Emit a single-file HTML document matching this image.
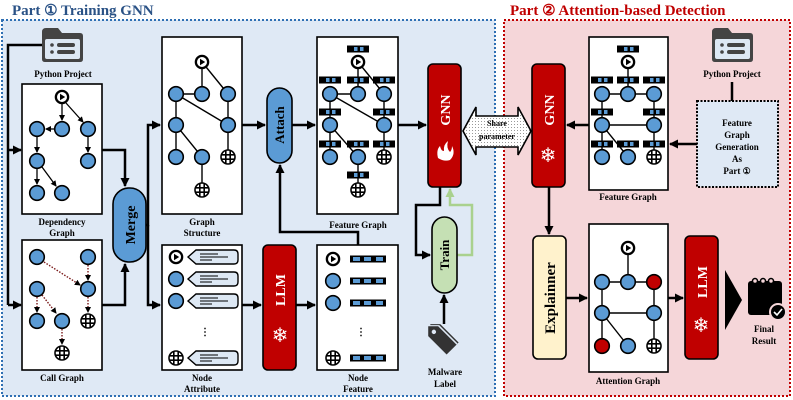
<!DOCTYPE html>
<html><head><meta charset="utf-8"><style>
html,body{margin:0;padding:0;background:#fff;width:793px;height:400px;overflow:hidden}
svg{display:block}
text{font-family:"Liberation Serif",serif;font-weight:bold}
</style></head><body>
<svg width="793" height="400" viewBox="0 0 793 400" xmlns="http://www.w3.org/2000/svg">
<defs>
<marker id="ar" markerWidth="6" markerHeight="6" refX="5" refY="3" orient="auto" markerUnits="userSpaceOnUse"><path d="M0,0 L6,3 L0,6 z" fill="#000"/></marker>
<marker id="ar2" markerWidth="9" markerHeight="9" refX="8" refY="4.5" orient="auto" markerUnits="userSpaceOnUse"><path d="M0,0 L9,4.5 L0,9 z" fill="#000"/></marker>
<marker id="arg" markerWidth="9" markerHeight="9" refX="8" refY="4.5" orient="auto" markerUnits="userSpaceOnUse"><path d="M0,0 L9,4.5 L0,9 z" fill="#a9d18e"/></marker>
<g id="n"><circle r="7.3" fill="#5b9bd5" stroke="#000" stroke-width="1.6"/></g>
<g id="r"><circle r="7.3" fill="#c00000" stroke="#000" stroke-width="1.6"/></g>
<g id="p"><circle r="7.3" fill="#000"/><circle r="5" fill="#fff"/><path d="M-2,-3.2 L3.2,0 L-2,3.2z" fill="#000"/></g>
<g id="q"><circle r="7" fill="#fff" stroke="#000" stroke-width="1.6"/><path d="M-6,-2.2H6M-6,2.2H6M-2.2,-6V6M2.2,-6V6" stroke="#000" stroke-width="1.6"/></g>
<g id="b"><rect x="-11" y="-3.5" width="22" height="7" fill="#000"/><rect x="-4" y="-2" width="3.5" height="4" fill="#5b9bd5"/><rect x="2" y="-2" width="3.5" height="4" fill="#5b9bd5"/></g>
<g id="bb"><rect x="-18" y="-3.5" width="36" height="7" fill="#000"/><rect x="-15" y="-2" width="7" height="4" fill="#5b9bd5"/><rect x="-4" y="-2" width="7" height="4" fill="#5b9bd5"/><rect x="8" y="-2" width="7" height="4" fill="#5b9bd5"/></g>
<g id="sp"><path d="M0,0 L8,-7 H46 Q50,-7 50,-3 V3 Q50,7 46,7 H8 z" fill="#dde8f4" stroke="#000" stroke-width="1.4"/><path d="M12,-3H30M12,0H40M12,3H24" stroke="#000" stroke-width="1"/></g>
<g id="folder"><path d="M0,4 Q0,0 4,0 H16 L20,5 H38 Q41,5 41,8 V31 Q41,34 38,34 H3 Q0,34 0,31 z" fill="#444"/><rect x="3" y="11" width="35" height="20" rx="2" fill="#dde8f4"/><circle cx="10" cy="17" r="1.8" fill="#444"/><circle cx="10" cy="24" r="1.8" fill="#444"/><rect x="15" y="15" width="18" height="4" rx="2" fill="#444"/><rect x="15" y="22" width="18" height="4" rx="2" fill="#444"/></g>
<pattern id="dots" width="3" height="3" patternUnits="userSpaceOnUse"><rect width="3" height="3" fill="#fff"/><circle cx="1.5" cy="1.5" r="0.5" fill="#777"/></pattern>
</defs>

<rect x="2" y="20" width="493" height="376" fill="#dfe9f5" stroke="#2e6fb3" stroke-width="2" stroke-dasharray="2,2"/>
<rect x="504" y="20" width="286" height="376" fill="#f5d6d9" stroke="#c00000" stroke-width="2" stroke-dasharray="2,2"/>
<text x="12" y="15" font-size="15" fill="#2a5286">Part ① Training GNN</text>
<text x="510" y="15" font-size="15" fill="#c00000">Part ② Attention-based Detection</text>

<use href="#folder" x="42" y="28"/>
<text x="63" y="77" font-size="9" text-anchor="middle">Python Project</text>
<path d="M42,45 H8 V305" fill="none" stroke="#000" stroke-width="2.5"/>
<path d="M8,150 H21" stroke="#000" stroke-width="2.5" marker-end="url(#ar2)"/>
<path d="M8,305 H21" stroke="#000" stroke-width="2.5" marker-end="url(#ar2)"/>

<rect x="22" y="84" width="80" height="130" fill="#fff" stroke="#000" stroke-width="1.6"/>
<g stroke="#000" stroke-width="1.3" marker-end="url(#ar)" fill="none">
<path d="M62,104 V120"/><path d="M66,103 L83,122"/><path d="M54,129 H46"/>
<path d="M37,137 V152"/><path d="M88,137 V152"/><path d="M37,169 V184"/><path d="M42,167 L56,186"/>
</g>
<use href="#p" x="62" y="97"/><use href="#n" x="37" y="129"/><use href="#n" x="62" y="129"/><use href="#n" x="88" y="129"/>
<use href="#n" x="37" y="161"/><use href="#n" x="88" y="161"/><use href="#n" x="37" y="193"/><use href="#n" x="62" y="193"/>
<text x="62" y="225" font-size="9" text-anchor="middle">Dependency</text>
<text x="62" y="236" font-size="9" text-anchor="middle">Graph</text>

<rect x="22" y="240" width="80" height="130" fill="#fff" stroke="#000" stroke-width="1.6"/>
<g stroke="#7a1a1a" stroke-width="1.4" stroke-dasharray="1.5,1.5" marker-end="url(#ar)" fill="none">
<path d="M44,262 L80,285"/><path d="M88,265 V280"/><path d="M37,297 V312"/><path d="M42,295 L56,313"/><path d="M88,297 V312"/><path d="M62,329 V344"/>
</g>
<use href="#n" x="37" y="257"/><use href="#n" x="88" y="257"/><use href="#n" x="37" y="289"/><use href="#n" x="88" y="289"/>
<use href="#n" x="37" y="321"/><use href="#n" x="62" y="321"/><use href="#q" x="88" y="321"/><use href="#q" x="62" y="353"/>
<text x="62" y="381" font-size="9" text-anchor="middle">Call Graph</text>

<path d="M102,150 H125 V186" fill="none" stroke="#000" stroke-width="2.5" marker-end="url(#ar2)"/>
<path d="M102,305 H125 V264" fill="none" stroke="#000" stroke-width="2.5" marker-end="url(#ar2)"/>
<rect x="113" y="188" width="33" height="74" rx="16" fill="#5b9bd5" stroke="#000" stroke-width="1.6"/>
<text transform="translate(135,225) rotate(-90)" font-size="14" text-anchor="middle">Merge</text>
<path d="M146,225 H148 V125 H160" fill="none" stroke="#000" stroke-width="2.5" marker-end="url(#ar2)"/>
<path d="M148,225 V305 H160" fill="none" stroke="#000" stroke-width="2.5" marker-end="url(#ar2)"/>

<rect x="162" y="37" width="80" height="177" fill="#fff" stroke="#000" stroke-width="1.6"/>
<g stroke="#000" stroke-width="1.4" fill="none">
<path d="M202,62 V94"/><path d="M202,62 L228,94"/><path d="M176,94 H202"/><path d="M176,94 V157"/><path d="M176,94 L228,125"/><path d="M228,94 V157"/><path d="M176,125 L202,157 V190"/>
</g>
<use href="#p" x="202" y="62"/><use href="#n" x="176" y="94"/><use href="#n" x="202" y="94"/><use href="#n" x="228" y="94"/>
<use href="#n" x="176" y="125"/><use href="#n" x="228" y="125"/><use href="#n" x="176" y="157"/><use href="#n" x="202" y="157"/><use href="#q" x="228" y="157"/><use href="#q" x="202" y="190"/>
<text x="202" y="225" font-size="9" text-anchor="middle">Graph</text>
<text x="202" y="236" font-size="9" text-anchor="middle">Structure</text>

<rect x="162" y="245" width="80" height="125" fill="#fff" stroke="#000" stroke-width="1.6"/>
<use href="#p" x="176" y="257"/><use href="#sp" x="188" y="257"/>
<use href="#n" x="176" y="279"/><use href="#sp" x="188" y="279"/>
<use href="#n" x="176" y="301"/><use href="#sp" x="188" y="301"/>
<text x="205" y="335" font-size="10" text-anchor="middle">⋮</text>
<use href="#q" x="176" y="358"/><use href="#sp" x="188" y="358"/>
<text x="202" y="381" font-size="9" text-anchor="middle">Node</text>
<text x="202" y="392" font-size="9" text-anchor="middle">Attribute</text>

<path d="M242,125 H265" stroke="#000" stroke-width="2.5" marker-end="url(#ar2)"/>
<rect x="267" y="88" width="25" height="75" rx="12.5" fill="#5b9bd5" stroke="#000" stroke-width="1.6"/>
<text transform="translate(284,125) rotate(-90)" font-size="13" text-anchor="middle">Attach</text>
<path d="M292,125 H315" stroke="#000" stroke-width="2.5" marker-end="url(#ar2)"/>
<path d="M358,245 V232 H280 V165" fill="none" stroke="#000" stroke-width="2.5" marker-end="url(#ar2)"/>

<path d="M242,305 H261" stroke="#000" stroke-width="2.5" marker-end="url(#ar2)"/>
<rect x="263" y="245" width="33" height="125" rx="5" fill="#c00000" stroke="#000" stroke-width="1.6"/>
<text transform="translate(285,290) rotate(-90)" font-size="14" fill="#fff" text-anchor="middle">LLM</text>
<text x="280" y="342" font-size="20" fill="#fff" text-anchor="middle" style="font-family:'DejaVu Sans',sans-serif">❄</text>
<path d="M296,305 H315" stroke="#000" stroke-width="2.5" marker-end="url(#ar2)"/>

<rect x="317" y="37" width="81" height="177" fill="#fff" stroke="#000" stroke-width="1.6"/>
<g stroke="#000" stroke-width="1.4" fill="none">
<path d="M358,62 V94"/><path d="M358,62 L384,94"/><path d="M330,94 H358"/><path d="M330,94 V157"/><path d="M330,94 L384,125"/><path d="M384,94 V157"/><path d="M330,125 L358,157 V190"/>
</g>
<use href="#b" x="358" y="49"/>
<use href="#p" x="358" y="62"/>
<use href="#b" x="330" y="80"/><use href="#b" x="358" y="80"/><use href="#b" x="384" y="80"/>
<use href="#n" x="330" y="94"/><use href="#n" x="358" y="94"/><use href="#n" x="384" y="94"/>
<use href="#b" x="330" y="112"/><use href="#b" x="384" y="112"/>
<use href="#n" x="330" y="125"/><use href="#n" x="384" y="125"/>
<use href="#b" x="330" y="144"/><use href="#b" x="358" y="144"/><use href="#b" x="384" y="144"/>
<use href="#n" x="330" y="157"/><use href="#n" x="358" y="157"/><use href="#q" x="384" y="157"/>
<use href="#b" x="358" y="175"/><use href="#q" x="358" y="190"/>
<text x="358" y="228" font-size="9" text-anchor="middle">Feature Graph</text>

<rect x="317" y="245" width="81" height="125" fill="#fff" stroke="#000" stroke-width="1.6"/>
<use href="#p" x="333" y="259"/><use href="#bb" x="368" y="259"/>
<use href="#n" x="333" y="281"/><use href="#bb" x="368" y="281"/>
<use href="#n" x="333" y="303"/><use href="#bb" x="368" y="303"/>
<text x="361" y="335" font-size="10" text-anchor="middle">⋮</text>
<use href="#q" x="333" y="358"/><use href="#bb" x="368" y="358"/>
<text x="358" y="381" font-size="9" text-anchor="middle">Node</text>
<text x="358" y="392" font-size="9" text-anchor="middle">Feature</text>

<path d="M398,125 H426" stroke="#000" stroke-width="2.5" marker-end="url(#ar2)"/>
<rect x="428" y="64" width="33" height="123" rx="5" fill="#c00000" stroke="#000" stroke-width="1.6"/>
<text transform="translate(450,110) rotate(-90)" font-size="14" fill="#fff" text-anchor="middle">GNN</text>
<path d="M438,158 Q436,150 440,146 Q441,151 444,151 Q443,145 448,141 Q446,148 450,152 Q452,150 452,146 Q456,154 450,160 Q444,162 438,158z" fill="#fff"/>
<path d="M440,187 V205 H416 V255 H430" fill="none" stroke="#000" stroke-width="2.5" marker-end="url(#ar2)"/>
<path d="M457,255 H472 V205 H450 V189" fill="none" stroke="#a9d18e" stroke-width="2.5" marker-end="url(#arg)"/>
<rect x="432" y="217" width="25" height="76" rx="12.5" fill="#c5e0b4" stroke="#000" stroke-width="1.6"/>
<text transform="translate(449,255) rotate(-90)" font-size="13" text-anchor="middle">Train</text>
<path d="M444,324 V295" stroke="#000" stroke-width="2.5" marker-end="url(#ar2)"/>
<g transform="translate(436,334) rotate(-45)">
<path d="M-7,-4 L0,-11 L7,-4 V22 H-7 z" fill="#333" transform="translate(3,0)"/>
<path d="M-7,-4 L0,-11 L7,-4 V22 H-7 z" fill="#dfe9f5" transform="translate(1.5,0)"/>
<path d="M-7,-4 L0,-11 L7,-4 V22 H-7 z" fill="#333"/>
<circle cx="0" cy="-3" r="2.2" fill="#dfe9f5"/>
</g>
<text x="445" y="375" font-size="9" text-anchor="middle">Malware</text>
<text x="445" y="387" font-size="9" text-anchor="middle">Label</text>

<path d="M463,131 L476,107 V116 H518 V107 L531,131 L518,155 V147 H476 V155 z" fill="url(#dots)" stroke="#000" stroke-width="1.6"/>
<text x="497" y="126" font-size="8" text-anchor="middle">Share</text>
<text x="497" y="139" font-size="8" text-anchor="middle">parameter</text>

<rect x="532" y="64" width="33" height="123" rx="5" fill="#c00000" stroke="#000" stroke-width="1.6"/>
<text transform="translate(554,110) rotate(-90)" font-size="14" fill="#fff" text-anchor="middle">GNN</text>
<text x="548" y="162" font-size="20" fill="#fff" text-anchor="middle" style="font-family:'DejaVu Sans',sans-serif">❄</text>
<path d="M589,125 H567" stroke="#000" stroke-width="2.5" marker-end="url(#ar2)"/>

<rect x="589" y="37" width="79" height="153" fill="#fff" stroke="#000" stroke-width="1.6"/>
<g stroke="#000" stroke-width="1.4" fill="none">
<path d="M628,62 V94"/><path d="M602,94 H654"/><path d="M602,94 V157"/><path d="M654,94 V157"/><path d="M602,125 H654"/><path d="M602,125 L628,157"/>
</g>
<use href="#b" x="628" y="49"/><use href="#p" x="628" y="62"/>
<use href="#b" x="602" y="80"/><use href="#b" x="628" y="80"/><use href="#b" x="654" y="80"/>
<use href="#n" x="602" y="94"/><use href="#n" x="628" y="94"/><use href="#n" x="654" y="94"/>
<use href="#b" x="602" y="112"/><use href="#b" x="654" y="112"/>
<use href="#n" x="602" y="125"/><use href="#n" x="654" y="125"/>
<use href="#b" x="602" y="144"/><use href="#b" x="628" y="144"/><use href="#b" x="654" y="144"/>
<use href="#n" x="602" y="157"/><use href="#n" x="628" y="157"/><use href="#q" x="654" y="157"/>
<text x="628" y="200" font-size="9" text-anchor="middle">Feature Graph</text>

<use href="#folder" x="712" y="28"/>
<text x="732" y="77" font-size="9" text-anchor="middle">Python Project</text>
<path d="M732,82 V101" stroke="#000" stroke-width="2.5"/>
<rect x="697" y="101" width="81" height="86" fill="#dfe9f5" stroke="#000" stroke-width="2" stroke-dasharray="2,1.5"/>
<g font-size="9" text-anchor="middle">
<text x="737" y="126">Feature</text><text x="737" y="138">Graph</text><text x="737" y="150">Generation</text><text x="737" y="162">As</text><text x="737" y="174">Part ①</text>
</g>
<path d="M697,144 H670" stroke="#000" stroke-width="2.5" marker-end="url(#ar2)"/>

<path d="M549,187 V234" stroke="#000" stroke-width="2.5" marker-end="url(#ar2)"/>
<rect x="533" y="236" width="33" height="123" rx="5" fill="#fff2cc" stroke="#000" stroke-width="1.6"/>
<text transform="translate(555,298) rotate(-90)" font-size="15" text-anchor="middle">Explainner</text>
<path d="M566,298 H587" stroke="#000" stroke-width="2.5" marker-end="url(#ar2)"/>

<rect x="589" y="224" width="79" height="148" fill="#fff" stroke="#000" stroke-width="1.6"/>
<g stroke="#000" stroke-width="1.4" fill="none">
<path d="M628,248 V282"/><path d="M602,282 H654"/><path d="M602,282 V346"/><path d="M654,282 V346"/><path d="M602,313 H654"/><path d="M602,313 L628,346"/>
</g>
<use href="#p" x="628" y="248"/>
<use href="#n" x="602" y="282"/><use href="#n" x="628" y="282"/><use href="#r" x="654" y="282"/>
<use href="#n" x="602" y="313"/><use href="#n" x="654" y="313"/>
<use href="#r" x="602" y="346"/><use href="#n" x="628" y="346"/><use href="#q" x="654" y="346"/>
<text x="628" y="384" font-size="9" text-anchor="middle">Attention Graph</text>
<path d="M668,298 H683" stroke="#000" stroke-width="2.5" marker-end="url(#ar2)"/>

<rect x="685" y="236" width="33" height="123" rx="5" fill="#c00000" stroke="#000" stroke-width="1.6"/>
<text transform="translate(707,282) rotate(-90)" font-size="14" fill="#fff" text-anchor="middle">LLM</text>
<text x="701" y="332" font-size="20" fill="#fff" text-anchor="middle" style="font-family:'DejaVu Sans',sans-serif">❄</text>
<path d="M725,270 L742,300 L725,330 z" fill="#000"/>
<g>
<rect x="748" y="281" width="34" height="34" rx="3" fill="#000"/>
<circle cx="755" cy="281" r="2.5" fill="#f5d6d9" stroke="#000" stroke-width="1.5"/>
<circle cx="763" cy="281" r="2.5" fill="#f5d6d9" stroke="#000" stroke-width="1.5"/>
<circle cx="771" cy="281" r="2.5" fill="#f5d6d9" stroke="#000" stroke-width="1.5"/>
<circle cx="778" cy="312" r="8" fill="#000" stroke="#f5d6d9" stroke-width="2"/>
<path d="M774,312 L777,315 L782,309" fill="none" stroke="#fff" stroke-width="1.6"/>
</g>
<text x="764" y="332" font-size="9" text-anchor="middle">Final</text>
<text x="764" y="344" font-size="9" text-anchor="middle">Result</text>
</svg>
</body></html>
